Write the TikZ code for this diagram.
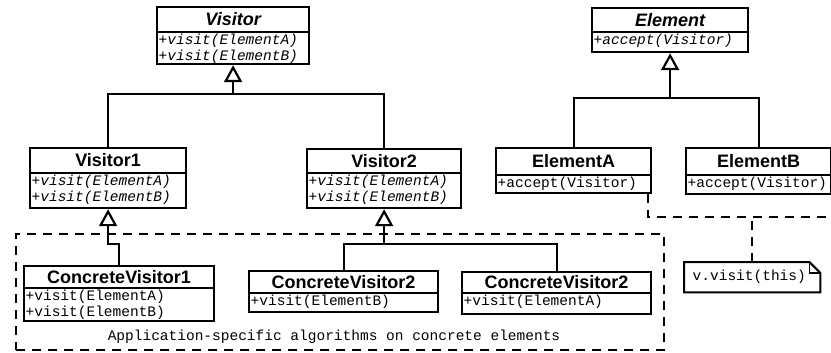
\documentclass[tikz,border=0pt]{standalone}
\usepackage{fontspec}
\setmainfont{Liberation Sans}
\newfontfamily\opsfont{Liberation Mono}
\usetikzlibrary{arrows.meta}

\tikzset{
  sepline/.style={line width=2pt},
  boxframe/.style={draw, line width=2.2pt, anchor=north west, inner sep=0pt},
  titletext/.style={anchor=north, inner sep=0pt,
    font=\fontsize{18}{20}\selectfont\bfseries},
  opstext/.style={anchor=north west, align=left, inner xsep=2.5pt, inner ysep=1.5pt,
    font=\opsfont\fontsize{14.5}{15.5}\selectfont},
  gen/.style={line width=2.2pt},
  hollow/.style={-{Triangle[open, length=17pt, width=18pt, line width=2.2pt]}},
  dashline/.style={line width=2.2pt, dash pattern=on 9pt off 7pt},
}

% class box: name, left, top, width, height, title height, title, operations
\newcommand\umlclass[8]{%
  \node[boxframe, minimum width=#4pt, minimum height=#5pt] (#1) at (#2,-#3) {};
  \node[titletext, minimum height=#6pt] (#1-t) at (#1.north) {#7};
  \draw[sepline] (#1.west |- #1-t.south) -- (#1.east |- #1-t.south);
  \node[opstext] (#1-o) at (#1.west |- #1-t.south) {#8};
}

\begin{document}
\begin{tikzpicture}[x=1pt, y=1pt]
\useasboundingbox (0,0) rectangle (831,-353);

% group of concrete visitors
\node[draw, dashline, anchor=north west, minimum width=648pt, minimum height=116pt,
      inner sep=0pt] (region) at (15,-233) {};
\node[opstext, anchor=center] (apptext) at (334,-337)
  {Application-specific algorithms on concrete elements};

% classes
\umlclass{visitor}{156}{6}{152}{57}{26}{\itshape Visitor}
  {\itshape +visit(ElementA)\\\itshape +visit(ElementB)}
\umlclass{element}{591}{7}{156}{44}{25}{\itshape Element}
  {\itshape +accept(Visitor)}
\umlclass{v1}{29}{147}{156}{60}{26}{Visitor1}
  {\itshape +visit(ElementA)\\\itshape +visit(ElementB)}
\umlclass{v2}{306}{148}{154}{59}{25}{Visitor2}
  {\itshape +visit(ElementA)\\\itshape +visit(ElementB)}
\umlclass{ea}{495}{147}{155}{45}{28}{ElementA}{+accept(Visitor)}
\umlclass{eb}{685}{147}{145}{46}{28}{ElementB}{+accept(Visitor)}
\umlclass{cv1}{23}{265}{190}{55}{23}{ConcreteVisitor1}
  {+visit(ElementA)\\+visit(ElementB)}
\umlclass{cv2a}{248}{270}{189}{41}{23}{ConcreteVisitor2}{+visit(ElementB)}
\umlclass{cv2b}{461}{271}{189}{42}{22}{ConcreteVisitor2}{+visit(ElementA)}

% note
\node[anchor=north west, minimum width=136pt, minimum height=30pt, inner sep=0pt]
  (note) at (684,-262) {};
\node[opstext, anchor=west] (note-t) at ([xshift=6pt]note.west) {v.visit(this)};
\draw[sepline] (note.north west) -- ([xshift=-11pt]note.north east)
  -- ([yshift=-11pt]note.north east) -- (note.south east) -- (note.south west) -- cycle;
\draw[line width=1.2pt] ([xshift=-11pt]note.north east) |- ([yshift=-11pt]note.north east);

% generalisations
\coordinate (jv) at (visitor.south |- 0,-94);
\draw[gen] (v1.north) |- (jv) -| (v2.north);
\draw[gen, hollow] (jv) -- (visitor.south);

\coordinate (je) at (element.south |- 0,-98);
\draw[gen] (ea.north) |- (je) -| (eb.north);
\draw[gen, hollow] (je) -- (element.south);

\coordinate (jc1) at (v1.south |- 0,-244);
\draw[gen, hollow] (cv1.north) |- (jc1) -- (v1.south);

\coordinate (jc2) at (v2.south |- 0,-244);
\draw[gen] (cv2a.north) |- (jc2) -| (cv2b.north);
\draw[gen, hollow] (jc2) -- (v2.south);

% note attachment
\coordinate (dend) at (831,-217);
\draw[dashline] ([xshift=-4pt]ea.south east) |- (dend);
\draw[dashline] (note.north) -- (note.north |- dend);
\end{tikzpicture}
\end{document}
